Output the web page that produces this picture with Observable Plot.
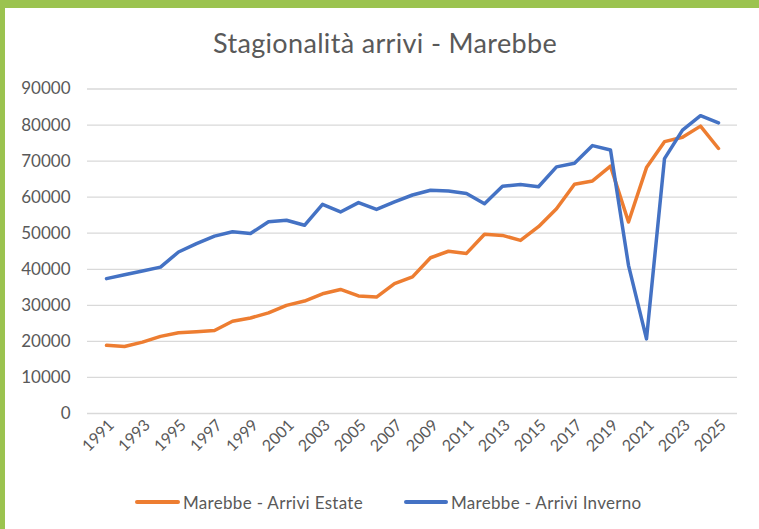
<!DOCTYPE html>
<html><head><meta charset="utf-8">
<script src="https://cdn.jsdelivr.net/npm/d3@7"></script>
<script src="https://cdn.jsdelivr.net/npm/@observablehq/plot@0.6"></script>
<style>
body{margin:0;background:#fff;}
#wrap{position:relative;width:759px;height:529px;overflow:hidden;background:#fff;font-family:Lato,sans-serif;color:#595959;}
#gtop{position:absolute;left:0;top:0;width:759px;height:8px;background:#9BC34F;}
#gleft{position:absolute;left:0;top:0;width:5px;height:529px;background:#9BC34F;}
#title{position:absolute;left:213px;top:30px;font-size:24px;line-height:1.2;white-space:nowrap;}
#chart{position:absolute;left:0;top:60px;}
.lg{position:absolute;top:493px;font-size:17px;line-height:20px;white-space:nowrap;}
.sw{position:absolute;height:4px;border-radius:2px;top:500px;}
</style></head>
<body><div id="wrap">
<div id="gtop"></div><div id="gleft"></div>
<div id="title">Stagionalità arrivi - Marebbe</div>
<div id="chart"></div>
<div class="sw" style="left:135px;width:45px;background:#ED7D31"></div>
<div class="lg" id="lg1" style="left:183px">Marebbe - Arrivi Estate</div>
<div class="sw" style="left:404px;width:44px;background:#4472C4"></div>
<div class="lg" id="lg2" style="left:451px">Marebbe - Arrivi Inverno</div>
</div>
<script>
const years = [1991,1992,1993,1994,1995,1996,1997,1998,1999,2000,2001,2002,2003,2004,2005,2006,2007,2008,2009,2010,2011,2012,2013,2014,2015,2016,2017,2018,2019,2020,2021,2022,2023,2024,2025];
const estate = [18900,18600,19800,21400,22400,22700,23000,25600,26500,27900,30000,31200,33200,34400,32600,32300,36000,37900,43200,45000,44400,49700,49400,48000,51800,56800,63600,64500,68600,53100,68200,75400,76600,79700,73500];
const inverno = [37400,38500,39500,40600,44800,47100,49200,50400,49900,53200,53600,52200,58000,55900,58500,56600,58700,60600,61900,61700,61000,58200,63000,63500,62900,68400,69400,74300,73100,41100,20700,70700,78600,82600,80600];
const seriesNames = ["Marebbe - Arrivi Estate","Marebbe - Arrivi Inverno"];
const seriesColors = ["#ED7D31","#4472C4"];
const yTicks = [0,10000,20000,30000,40000,50000,60000,70000,80000,90000];
const xTicks = [1991,1993,1995,1997,1999,2001,2003,2005,2007,2009,2011,2013,2015,2017,2019,2021,2023,2025];

// title: scale font so its width matches the reference span, keep baseline
const titleEl = document.getElementById("title");
const w24 = titleEl.getBoundingClientRect().width;
const fs = Math.min(27, 24 * 340 / w24);
titleEl.style.fontSize = fs + "px";
const wfs = titleEl.getBoundingClientRect().width;
titleEl.style.letterSpacing = Math.max(0, (344 - wfs) / titleEl.textContent.length) + "px";
titleEl.style.top = (53.5 - 0.987 * fs) + "px";

function fitWidth(el, target){
  const w = el.getBoundingClientRect().width;
  el.style.letterSpacing = ((target - w) / el.textContent.length) + "px";
}
fitWidth(document.getElementById("lg1"), 180);
document.getElementById("lg2").style.letterSpacing = document.getElementById("lg1").style.letterSpacing;

const rows = [];
years.forEach((y,i)=>{ rows.push({year:y,value:estate[i],series:seriesNames[0]}); });
years.forEach((y,i)=>{ rows.push({year:y,value:inverno[i],series:seriesNames[1]}); });

const chart = Plot.plot({
  width:759, height:420,
  marginTop:28.5, marginBottom:67, marginLeft:87, marginRight:22,
  style:{fontFamily:"Lato, sans-serif", fontSize:"17px", color:"#595959", background:"transparent", overflow:"visible"},
  x:{type:"point", domain:years, padding:0.43, label:null},
  y:{domain:[0,90000], label:null},
  color:{domain:seriesNames, range:seriesColors},
  marks:[
    Plot.ruleY(yTicks,{stroke:"#d9d9d9", strokeWidth:1.3}),
    Plot.axisY({ticks:yTicks, tickSize:0, tickPadding:17, fontSize:17, tickFormat:d=>String(d), label:null}),
    Plot.axisX({ticks:xTicks, tickSize:0, tickPadding:9, tickRotate:-45, dx:5, fontSize:16, tickFormat:d=>String(d), label:null}),
    Plot.line(rows,{x:"year", y:"value", z:"series", stroke:"series", strokeWidth:3.5})
  ]
});
document.getElementById("chart").appendChild(chart);
</script>
</body></html>
